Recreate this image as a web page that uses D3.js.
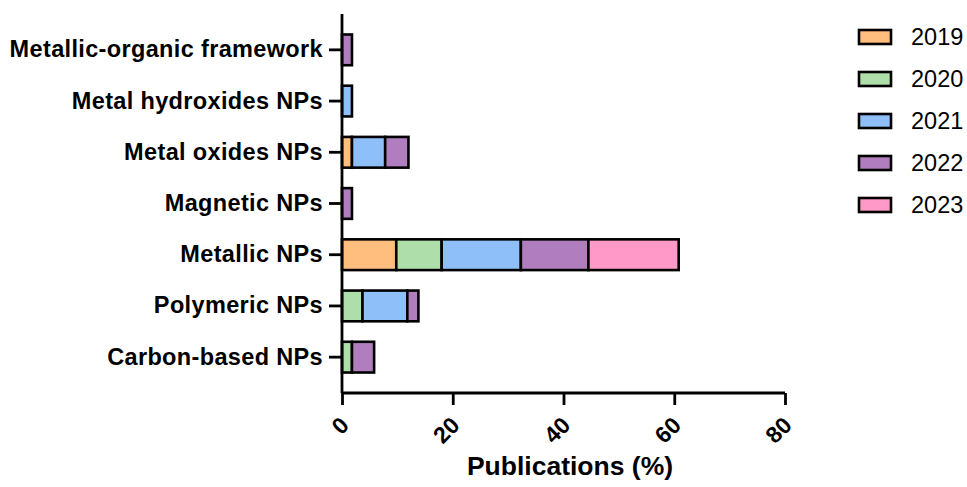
<!DOCTYPE html>
<html>
<head>
<meta charset="utf-8">
<script src="https://cdn.jsdelivr.net/npm/d3@7"></script>
<style>
  body { margin: 0; background: #fff; }
  text { font-family: "Liberation Sans", Arial, sans-serif; }
</style>
</head>
<body>
<svg></svg>
<script>
// Define data
const categories = ["Metallic-organic framework", "Metal hydroxides NPs", "Metal oxides NPs",
    "Magnetic NPs", "Metallic NPs", "Polymeric NPs", "Carbon-based NPs"];
const years = ["2019", "2020", "2021", "2022", "2023"];
// values per year, in the same order as categories
const v2019 = [0, 0, 1.8, 0, 9.8, 0, 0];
const v2020 = [0, 0, 0, 0, 8.2, 3.7, 1.8];
const v2021 = [0, 1.8, 6.0, 0, 14.3, 8.1, 0];
const v2022 = [1.8, 0, 4.2, 1.8, 12.2, 2.0, 4.0];
const v2023 = [0, 0, 0, 0, 16.3, 0, 0];
const xTicks = [0, 20, 40, 60, 80];
const colors = ["#FFBE7D", "#AEDFAB", "#8FBFF9", "#B07EBE", "#FF99C8"];

const series = [v2019, v2020, v2021, v2022, v2023];
let rows = categories.map((c, i) => {
    let r = { cat: c };
    years.forEach((y, j) => r[y] = series[j][i]);
    return r;
});

let width = 967, height = 487;
let margin = { top: 14, bottom: 94, left: 342, right: 182 };

let svg = d3.select('svg')
    .attr('width', width)
    .attr('height', height);

let xScale = d3.scaleLinear()
    .domain([0, 80])
    .range([margin.left, width - margin.right]);

let yScale = d3.scaleBand()
    .domain(categories)
    .range([margin.top, height - margin.bottom])
    .paddingInner(0.4)
    .paddingOuter(0.4);

let color = d3.scaleOrdinal().domain(years).range(colors);

let stacked = d3.stack().keys(years)(rows);

// bars
svg.append('g')
    .selectAll('g')
    .data(stacked)
    .enter()
    .append('g')
    .attr('fill', d => color(d.key))
    .selectAll('rect')
    .data(d => d.filter(p => p[1] - p[0] > 0))
    .enter()
    .append('rect')
    .attr('x', d => xScale(d[0]))
    .attr('y', d => yScale(d.data.cat))
    .attr('width', d => xScale(d[1]) - xScale(d[0]))
    .attr('height', yScale.bandwidth())
    .attr('stroke', '#000')
    .attr('stroke-width', 2.6);

// y axis
let yAxis = svg.append('g')
    .attr('transform', `translate(${margin.left}, 0)`)
    .call(d3.axisLeft(yScale).tickSize(13).tickSizeOuter(0).tickPadding(6));
yAxis.select('.domain').attr('stroke-width', 2.8)
    .attr('d', `M0,${margin.top}V${height - margin.bottom}`);
yAxis.selectAll('.tick line').attr('stroke-width', 2.8);
yAxis.selectAll('.tick text')
    .style('font-size', '23.5px')
    .style('font-weight', 'bold')
    .style('letter-spacing', '0.35px')
    .attr('fill', '#000');

// x axis
let xAxis = svg.append('g')
    .attr('transform', `translate(0, ${height - margin.bottom})`)
    .call(d3.axisBottom(xScale).tickValues(xTicks).tickSize(12).tickSizeOuter(0));
xAxis.select('.domain').attr('stroke-width', 2.8)
    .attr('d', `M${margin.left},0H${width - margin.right}`);
xAxis.selectAll('.tick line').attr('stroke-width', 2.8);
xAxis.selectAll('.tick text')
    .style('font-size', '23px')
    .style('font-weight', 'bold')
    .attr('fill', '#000')
    .attr('text-anchor', 'end')
    .attr('transform', 'translate(2, 28) rotate(-45)')
    .attr('dy', '0.35em')
    .attr('y', 0);

svg.append('text')
    .attr('x', 570)
    .attr('y', 475)
    .attr('text-anchor', 'middle')
    .style('font-size', '26.5px')
    .style('font-weight', 'bold')
    .text('Publications (%)');

// legend
let legend = svg.append('g')
    .selectAll('g')
    .data(years)
    .enter()
    .append('g')
    .attr('transform', (d, i) => `translate(859, ${30 + i * 42})`);

legend.append('rect')
    .attr('width', 32)
    .attr('height', 14)
    .attr('fill', d => color(d))
    .attr('stroke', '#000')
    .attr('stroke-width', 2.6);

legend.append('text')
    .attr('x', 52)
    .attr('y', 7)
    .attr('dy', '0.36em')
    .style('font-size', '23.5px')
    .text(d => d);
</script>
</body>
</html>
